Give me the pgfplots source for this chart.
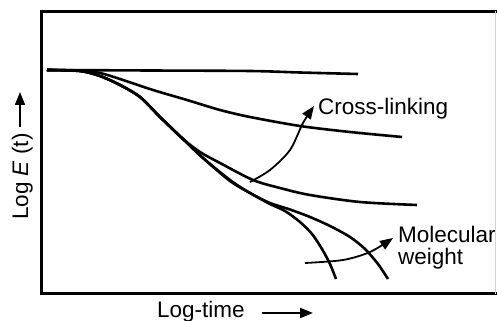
\documentclass[border=0pt]{standalone}
\usepackage{fontspec}
\setmainfont{Liberation Sans}
\usepackage{pgfplots}
\pgfplotsset{compat=1.18}
\usetikzlibrary{arrows.meta}

\tikzset{
  lbl/.style={font=\fontsize{22.5bp}{22bp}\selectfont, inner sep=0pt},
  tip/.style={-{Triangle[length=13bp,width=10bp]}},
  crv/.style={black, line width=2.6bp, smooth, no markers},
}

\begin{document}
\begin{tikzpicture}
\begin{axis}[
    scale only axis,
    width=454.5bp, height=282.2bp,
    xmin=41.5, xmax=496, ymin=27.5, ymax=309.7,
    axis line style={draw=none},
    ticks=none,
    clip=false,
]
% relaxation curves (pixel-like coordinates, y measured from bottom)
\addplot[crv] coordinates {(47,251) (150,250.5) (250,250) (300,248.5) (358,247)};
\addplot[crv] coordinates {(47,251) (80,250.5) (100,248) (120,242) (153,231) (187,221)
  (220,211) (250,204) (300,195) (350,189) (402,184)};
\addplot[crv] coordinates {(47,251) (80,250) (100,245) (120,236) (140,224) (160,204)
  (183,182) (200,169) (220,158) (253,141) (280,133) (310,126) (360,119) (417,116)};
\addplot[crv] coordinates {(47,251) (80,250) (100,245) (120,236) (140,224) (160,204)
  (183,182) (203,163) (230,141) (250,128) (270,118) (290,111.5) (310,104)
  (330,95) (350,84) (365,72) (378,57) (388,42)};
\addplot[crv] coordinates {(47,251) (80,250) (100,245) (120,236) (140,224) (160,204)
  (183,182) (203,163) (230,140) (250,128) (270,117) (285,110) (300,99)
  (312,87) (322,72) (330,57) (336,42)};

% annotation arrows
\addplot[black, line width=1.8bp, smooth, tip] coordinates {(250,139) (270,151) (290,171) (303,198) (314,215)};
\addplot[black, line width=1.8bp, smooth, tip] coordinates {(305,58) (343,61) (370,69) (393,83)};

\node[lbl, anchor=base west] at (axis cs:318,206) {Cross-linking};
\node[lbl, anchor=base west] at (axis cs:398,79) {Molecular};
\node[lbl, anchor=base west] at (axis cs:398,57) {weight};

% frame
\draw[line width=3.5bp] (axis cs:497,309.7) -- (axis cs:41.5,309.7)
  -- (axis cs:41.5,27.5) -- (axis cs:497,27.5);
\draw[gray!35, line width=1bp] (axis cs:495,27.5) -- (axis cs:495,309.7);

% axis labels
\node[lbl, anchor=base west] at (axis cs:157,4) {Log-time};
\draw[line width=2bp, tip] (axis cs:262,8) -- (axis cs:313,8);
\node[lbl, anchor=base west, rotate=90] at (axis cs:28,101) {Log \textit{E} (t)};
\draw[line width=2bp, tip] (axis cs:20,194) -- (axis cs:20,229);

\coordinate (bl) at (axis cs:0,0);
\coordinate (tr) at (axis cs:497,321);
\end{axis}
\pgfresetboundingbox
\path (bl) rectangle (tr);
\end{tikzpicture}
\end{document}
